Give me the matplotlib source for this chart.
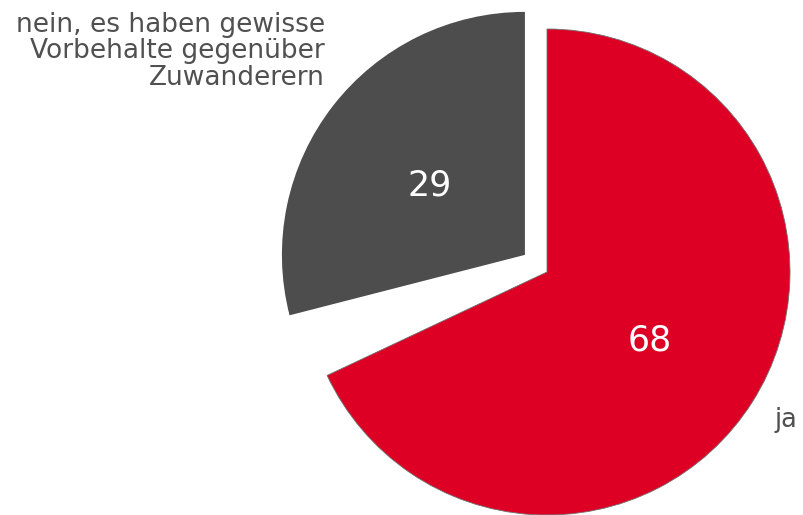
import matplotlib.pyplot as plt

# Werte (Prozent); die fehlenden 3 % bleiben unsichtbar
labels = ["ja", "", "nein, es haben gewisse\nVorbehalte gegenüber\nZuwanderern"]
values = [68, 3, 29]
colors = ["#DD0024", "none", "#4D4D4D"]
explode = [0, 0, 0.115]

fig = plt.figure(figsize=(8.04, 5.15), dpi=100)
ax = fig.add_axes([0, 0, 1, 1])

wedges, _ = ax.pie(values, colors=colors, explode=explode, startangle=90,
                   counterclock=False, radius=1)
wedges[0].set_edgecolor("#707070")
wedges[0].set_linewidth(0.6)
wedges[1].set_visible(False)

# Pixelgenaue Skalierung: Radius 1 = 243 px, Mittelpunkt bei (547, 272)
ax.set_xlim(-547 / 243, (804 - 547) / 243)
ax.set_ylim(-1, (515 - 243) / 243)
ax.set_aspect("equal")
ax.axis("off")

txt_color = "#505050"
ax.text(0.935, -0.61, labels[0], ha="left", va="center", fontsize=18.5, color=txt_color)
ax.text(-0.914, 1.07, labels[2], ha="right", va="top", fontsize=19,
        color=txt_color, linespacing=1.02)

ax.text(0.424, -0.28, str(values[0]), ha="center", va="center", fontsize=25, color="white")
ax.text(-0.481, 0.358, str(values[2]), ha="center", va="center", fontsize=25, color="white")

fig.savefig("out.png", dpi=100)
